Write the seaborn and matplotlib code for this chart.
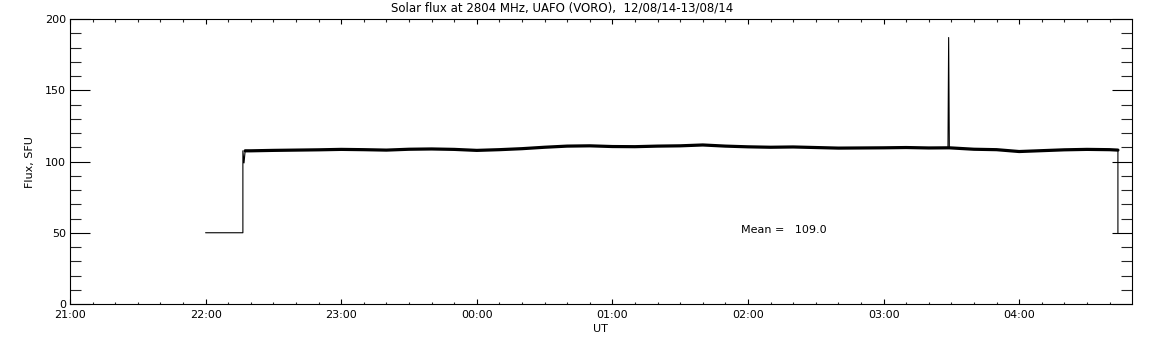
import matplotlib
matplotlib.use("Agg")
import matplotlib.pyplot as plt
import seaborn as sns
import pandas as pd

# minutes after 21:00 UT
minutes = [60, 76.5, 76.5, 77, 77.5, 80, 90, 100, 110, 120, 130, 140, 150, 160, 170,
           180, 190, 200, 210, 220, 230, 240, 250, 260, 270, 280, 290, 300, 310,
           320, 330, 340, 350, 360, 370, 380, 388.5, 388.8, 389.1, 400, 410, 420,
           430, 440, 450, 460, 463.7, 463.7]
flux = [50, 50, 107.5, 99, 107.5, 107.5, 107.8, 108.0, 108.2, 108.5, 108.3, 108.0,
        108.6, 108.8, 108.5, 107.8, 108.3, 109.0, 110.0, 110.8, 111.0, 110.5, 110.4,
        110.8, 111.0, 111.6, 110.8, 110.3, 110.0, 110.2, 109.8, 109.4, 109.5, 109.6,
        109.8, 109.5, 109.6, 187.0, 109.6, 108.6, 108.3, 107.0, 107.6, 108.2, 108.5,
        108.3, 108.0, 50]

# plateau (noisy band) drawn thicker
band_minutes = [77.5, 80, 90, 100, 110, 120, 130, 140, 150, 160, 170, 180, 190, 200,
                210, 220, 230, 240, 250, 260, 270, 280, 290, 300, 310, 320, 330, 340,
                350, 360, 370, 380, 388.5, 389.1, 400, 410, 420, 430, 440, 450, 460, 463.7]
band_flux = [107.5, 107.5, 107.8, 108.0, 108.2, 108.5, 108.3, 108.0, 108.6, 108.8,
             108.5, 107.8, 108.3, 109.0, 110.0, 110.8, 111.0, 110.5, 110.4, 110.8,
             111.0, 111.6, 110.8, 110.3, 110.0, 110.2, 109.8, 109.4, 109.5, 109.6,
             109.8, 109.5, 109.6, 109.6, 108.6, 108.3, 107.0, 107.6, 108.2, 108.5,
             108.3, 108.0]

tick_minutes = [0, 60, 120, 180, 240, 300, 360, 420]
tick_labels = ["21:00", "22:00", "23:00", "00:00", "01:00", "02:00", "03:00", "04:00"]
yticks = [0, 50, 100, 150, 200]

title = "Solar flux at 2804 MHz, UAFO (VORO),  12/08/14-13/08/14"
mean_text = "Mean =   109.0"

sns.set_style("white")
plt.rcParams['font.family'] = ['DejaVu Sans']
plt.rcParams['text.color'] = 'black'

fig = plt.figure(figsize=(11.52, 3.45), dpi=100)
ax = fig.add_axes([70/1152, 1-304/345, (1131.7-70)/1152, (304-19)/345])

df = pd.DataFrame({"t": minutes, "flux": flux})
dfb = pd.DataFrame({"t": band_minutes, "flux": band_flux})
sns.lineplot(data=df, x="t", y="flux", ax=ax, color="black", lw=0.8, sort=False,
             estimator=None)
sns.lineplot(data=dfb, x="t", y="flux", ax=ax, color="black", lw=2.3, sort=False,
             estimator=None)

ax.set_xlim(0, 469.8)
ax.set_ylim(0, 200)
ax.set_xticks(tick_minutes)
ax.set_xticklabels(tick_labels)
ax.set_xticks(range(0, 470, 10), minor=True)
ax.set_yticks(yticks)
ax.set_yticks(range(0, 201, 10), minor=True)
ax.set_xlabel("")
ax.set_ylabel("")

for s in ax.spines.values():
    s.set_color("black")
    s.set_linewidth(0.8)

ax.tick_params(axis="x", which="major", direction="in", length=3.6, width=0.8,
               top=True, bottom=True, labelsize=8, pad=4, colors="black")
ax.tick_params(axis="x", which="minor", direction="in", length=1.8, width=0.8,
               top=True, bottom=True)
ax.tick_params(axis="y", which="major", direction="in", length=14.4, width=0.8,
               left=True, right=True, labelsize=8, pad=3, colors="black")
ax.tick_params(axis="y", which="minor", direction="in", length=7.7, width=0.8,
               left=True, right=True)

ax.text(297, 52, mean_text, fontsize=8, ha="left", va="center", color="black")

fig.text(562/1152, 1-8/345, title, ha="center", va="center", fontsize=8.5)
fig.text(600/1152, 1-329/345, "UT", ha="center", va="center", fontsize=8)
fig.text(30/1152, 1-162/345, "Flux, SFU", ha="center", va="center", fontsize=8,
         rotation=90)

fig.savefig("out.png", dpi=100, facecolor="white")
